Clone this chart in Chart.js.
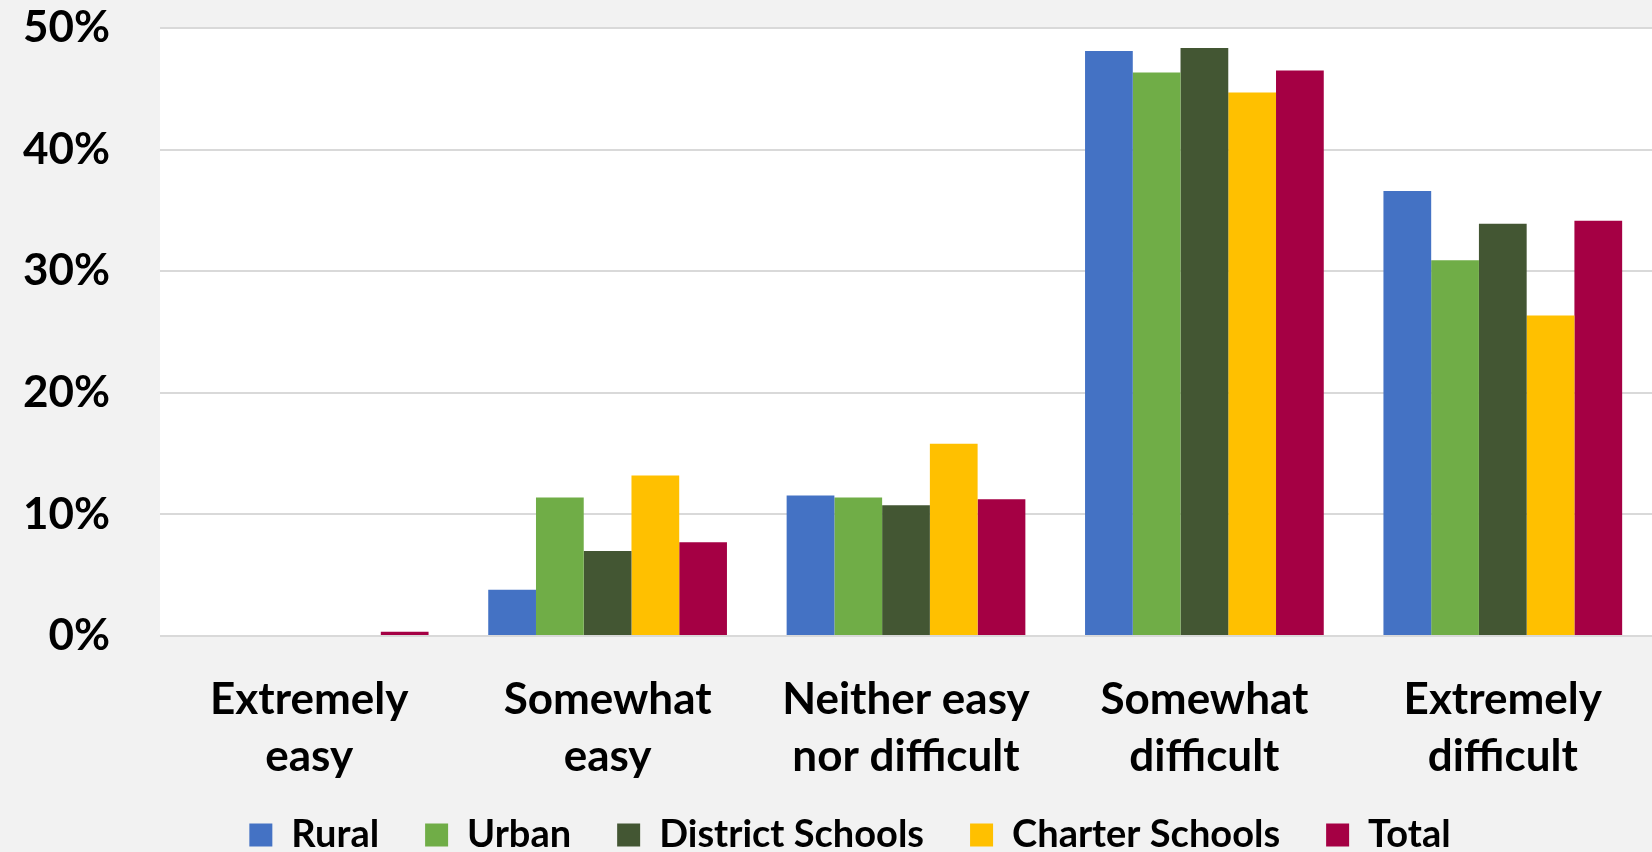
<!DOCTYPE html>
<html lang="en">
<head>
    <meta charset="UTF-8">
    <title>Difficulty ratings</title>
    <style>
        body {
            margin: 0;
            background-color: #f2f2f2;
        }
        #wrap {
            width: 1652px;
            height: 852px;
        }
    </style>
</head>
<body>
    <div id="wrap"><canvas id="myChart"></canvas></div>

    <script src="https://cdn.jsdelivr.net/npm/chart.js"></script>
    <script>
        // categories (two-line labels)
        const categories = [
            ['Extremely', 'easy'],
            ['Somewhat', 'easy'],
            ['Neither easy', 'nor difficult'],
            ['Somewhat', 'difficult'],
            ['Extremely', 'difficult']
        ];

        // values in %
        const rural    = [0,    3.8,  11.55, 48.1,  36.6];
        const urban    = [0,    11.4, 11.4,  46.35, 30.9];
        const district = [0,    7.0,  10.75, 48.35, 33.9];
        const charter  = [0,    13.2, 15.8,  44.7,  26.35];
        const total    = [0.35, 7.7,  11.25, 46.5,  34.15];

        const yTicks = [0, 10, 20, 30, 40, 50];

        const font = 'Lato';

        // white plot area on grey background
        const plotBg = {
            id: 'plotBg',
            beforeDraw(chart) {
                const c = chart.ctx;
                const a = chart.chartArea;
                c.save();
                c.fillStyle = '#f2f2f2';
                c.fillRect(0, 0, chart.width, chart.height);
                c.fillStyle = '#ffffff';
                c.fillRect(a.left, a.top, a.right - a.left, a.bottom - a.top);
                c.restore();
            }
        };

        // trim the legend box height and nudge it a bit
        // (legend clips to its own box, so only the top moves up)
        const legendTweak = {
            id: 'legendTweak',
            beforeInit(chart) {
                const fit = chart.legend.fit;
                chart.legend.fit = function () {
                    fit.call(this);
                    this.height -= 28;
                };
            },
            afterLayout(chart) {
                const lg = chart.legend;
                lg.left += 24;
                lg.right += 24;
                lg.top -= 16;
            }
        };

        const ctx = document.getElementById('myChart').getContext('2d');
        new Chart(ctx, {
            type: 'bar',
            data: {
                labels: categories,
                datasets: [
                    { label: 'Rural', data: rural, backgroundColor: '#4472C4' },
                    { label: 'Urban', data: urban, backgroundColor: '#70AD47' },
                    { label: 'District Schools', data: district, backgroundColor: '#435633' },
                    { label: 'Charter Schools', data: charter, backgroundColor: '#FFC000' },
                    { label: 'Total', data: total, backgroundColor: '#A50044' }
                ]
            },
            options: {
                responsive: true,
                maintainAspectRatio: false,
                animation: false,
                layout: {
                    padding: { top: 0, right: 0, bottom: 0, left: 0 }
                },
                datasets: {
                    bar: {
                        categoryPercentage: 0.8,
                        barPercentage: 1.0
                    }
                },
                plugins: {
                    tooltip: { enabled: false },
                    legend: {
                        position: 'bottom',
                        labels: {
                            boxWidth: 23,
                            boxHeight: 23,
                            padding: 46,
                            color: '#000',
                            font: { family: font, weight: 'bold', size: 38 }
                        }
                    }
                },
                scales: {
                    x: {
                        afterFit(scale) {
                            scale.height = 150;
                            scale.paddingTop = 0;
                        },
                        grid: { display: false },
                        border: { display: false },
                        ticks: {
                            color: '#000',
                            padding: 27,
                            maxRotation: 0,
                            autoSkip: false,
                            font: { family: font, weight: 'bold', size: 44, lineHeight: 1.3 }
                        }
                    },
                    y: {
                        min: 0,
                        max: 50,
                        afterFit(scale) {
                            scale.width = 160;
                            scale.paddingTop = 28;
                        },
                        afterBuildTicks(scale) {
                            scale.ticks = yTicks.map(v => ({ value: v }));
                        },
                        grid: {
                            color: '#d9d9d9',
                            lineWidth: 2,
                            drawTicks: false
                        },
                        border: { display: false },
                        ticks: {
                            color: '#000',
                            padding: 50,
                            font: { family: font, weight: 'bold', size: 44 },
                            callback: v => v + '%'
                        }
                    }
                }
            },
            plugins: [plotBg, legendTweak]
        });
    </script>
</body>
</html>
